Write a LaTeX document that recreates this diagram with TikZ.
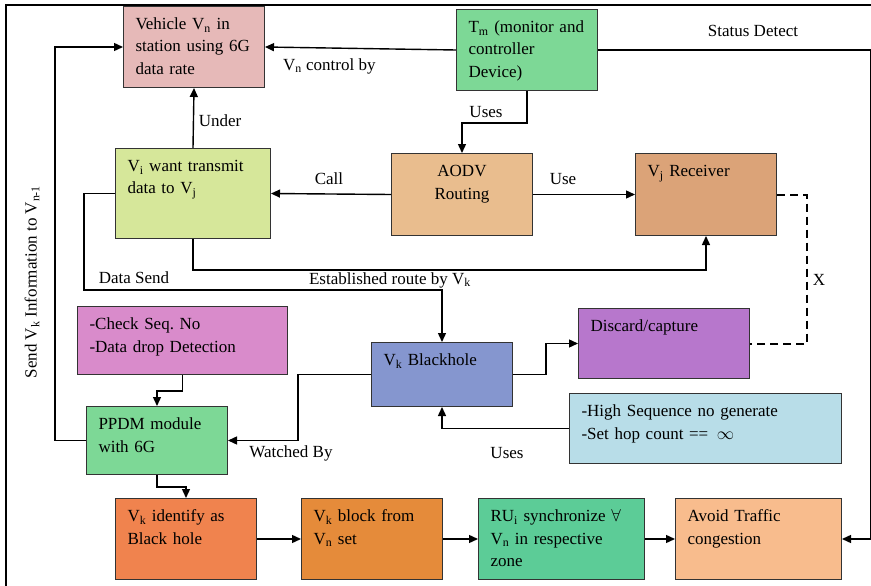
\documentclass[tikz,border=0pt]{standalone}
\usepackage{fontspec}
\setmainfont{Liberation Serif}
\usetikzlibrary{arrows.meta, positioning}
\frenchspacing

\definecolor{vehpink}{HTML}{E6B9B8}
\definecolor{tmgreen}{HTML}{7DD896}
\definecolor{vilime}{HTML}{D6E79A}
\definecolor{aodvtan}{HTML}{E9BD8E}
\definecolor{vjbrown}{HTML}{DBA378}
\definecolor{chkpink}{HTML}{D98BCB}
\definecolor{bhblue}{HTML}{8596CF}
\definecolor{discpurple}{HTML}{B777CC}
\definecolor{hiblue}{HTML}{B8DDE8}
\definecolor{idorange}{HTML}{F0834E}
\definecolor{blkorange}{HTML}{E58B3A}
\definecolor{rugreen}{HTML}{5CCC97}
\definecolor{avpeach}{HTML}{F8BC8D}

\tikzset{
  blk/.style={draw=black!80, line width=1pt, rectangle, anchor=north west,
    inner xsep=12pt, inner ysep=0pt, align=left, text height=23pt},
  std/.style={blk, minimum width=141pt, minimum height=81pt, text width=117pt, text depth=58pt},
  link/.style={line width=1.4pt, -{Triangle[length=9pt,width=8pt]}},
  lbl/.style={inner sep=0pt}
}

\begin{document}
\begin{tikzpicture}[x=1pt, y=-1pt, font=\fontsize{17}{22.5}\selectfont]
\useasboundingbox (0,0) rectangle (871,586);

% frame
\draw[line width=1.3pt] (6,586) -- (6,5) -- (871,5);

% boxes
\node[std, fill=vehpink] (veh) at (123,6) {Vehicle V\textsubscript{n} in\\station using 6G\\data rate};
\node[std, fill=tmgreen] (tm) at (456,9) {T\textsubscript{m} (monitor and\\controller\\Device)};
\node[blk, fill=vilime, minimum width=155pt, minimum height=90pt, text width=131pt, text depth=67pt] (vi) at (115,148) {V\textsubscript{i} want transmit\\data to V\textsubscript{j}};
\node[std, fill=aodvtan, align=center, minimum height=82pt, text depth=59pt] (aodv) at (391,153) {AODV\\Routing};
\node[std, fill=vjbrown, minimum height=82pt, text depth=59pt] (vj) at (635,153) {V\textsubscript{j} Receiver};
\node[blk, fill=chkpink, minimum width=210pt, minimum height=68pt, text width=186pt, text depth=45pt] (chk) at (77,306) {-Check Seq. No\\-Data drop Detection};
\node[std, fill=bhblue, minimum height=64pt, text depth=41pt] (bh) at (371,342) {V\textsubscript{k} Blackhole};
\node[blk, fill=discpurple, minimum width=171pt, minimum height=70pt, text width=147pt, text depth=47pt] (disc) at (578,308) {Discard/capture};
\node[blk, fill=hiblue, minimum width=272pt, minimum height=70pt, text width=248pt, text depth=47pt] (hi) at (569,393) {-High Sequence no generate\\-Set hop count == \,$\infty$};
\node[std, fill=tmgreen, minimum height=68pt, text depth=45pt] (ppdm) at (86,406) {PPDM module\\with 6G};
\node[std, fill=idorange] (ident) at (115,498) {V\textsubscript{k} identify as\\Black hole};
\node[std, fill=blkorange] (vblk) at (301,498) {V\textsubscript{k} block from\\V\textsubscript{n} set};
\node[std, fill=rugreen, minimum width=166pt, text width=142pt] (ru) at (478,498) {RU\textsubscript{i} synchronize $\forall$\\V\textsubscript{n} in respective\\zone};
\node[std, fill=avpeach, minimum width=166pt, text width=142pt] (avoid) at (675,498) {Avoid Traffic\\congestion};

% helper points
\coordinate (rgt) at (871,0);
\coordinate (lft) at (55,0);
\coordinate (ds) at (84,290);
\coordinate (xd) at (807,0);

% connectors
\draw[link] (tm.west) -- (veh.east);
\draw[link] (tm.east) -| (rgt |- avoid.east) -- (avoid.east);
\draw[link] (tm.south) -- ++(0,32) -| (aodv.north);
\draw[link] (aodv.west) -- (vi.east);
\draw[link] (aodv.east) -- (vj.west);
\draw[link] (vi.north) -- (veh.south);
\draw[link] (vi.south) -- ++(0,31) -| (vj.south);
\draw[link] (vi.west) -| (ds) -| (bh.north);
\draw[line width=2pt, dash pattern=on 8pt off 5pt] (vj.east) -| (xd |- disc.east) -- (disc.east);
\draw[link] (bh.east) -- ++(33,0) |- (disc.west);
\draw[link] (hi.west) -| (bh.south);
\draw[link] (bh.west) -- ++(-73,0) |- (ppdm.east);
\draw[link] (chk.south) -- ++(0,16) -| (ppdm.north);
\draw[link] (ppdm.south) -- ++(0,12) -| (ident.north);
\draw[link] (ppdm.west) -| (lft |- veh.west) -- (veh.west);
\draw[link] (ident.east) -- (vblk.west);
\draw[link] (vblk.east) -- (ru.west);
\draw[link] (ru.east) -- (avoid.west);

% labels
\node[lbl, anchor=west] (lctl) at (283,66) {V\textsubscript{n} control by};
\node[lbl] (lstat) at (753,31) {Status Detect};
\node[lbl] (luses) at (486,112) {Uses};
\node[lbl] (lcall) at (329,179) {Call};
\node[lbl] (luse) at (563,179) {Use};
\node[lbl] (lunder) at (220,121) {Under};
\node[lbl] (ldata) at (134,278) {Data Send};
\node[lbl] (lest) at (390,280) {Established route by V\textsubscript{k}};
\node[lbl] (lx) at (819,280) {X};
\node[lbl] (luses2) at (507,453) {Uses};
\node[lbl] (lwatch) at (291,453) {Watched By};
\node[lbl, rotate=90] (lsend) at (32,282) {Send V\textsubscript{k} Information to V\textsubscript{n-1}};
\end{tikzpicture}
\end{document}
